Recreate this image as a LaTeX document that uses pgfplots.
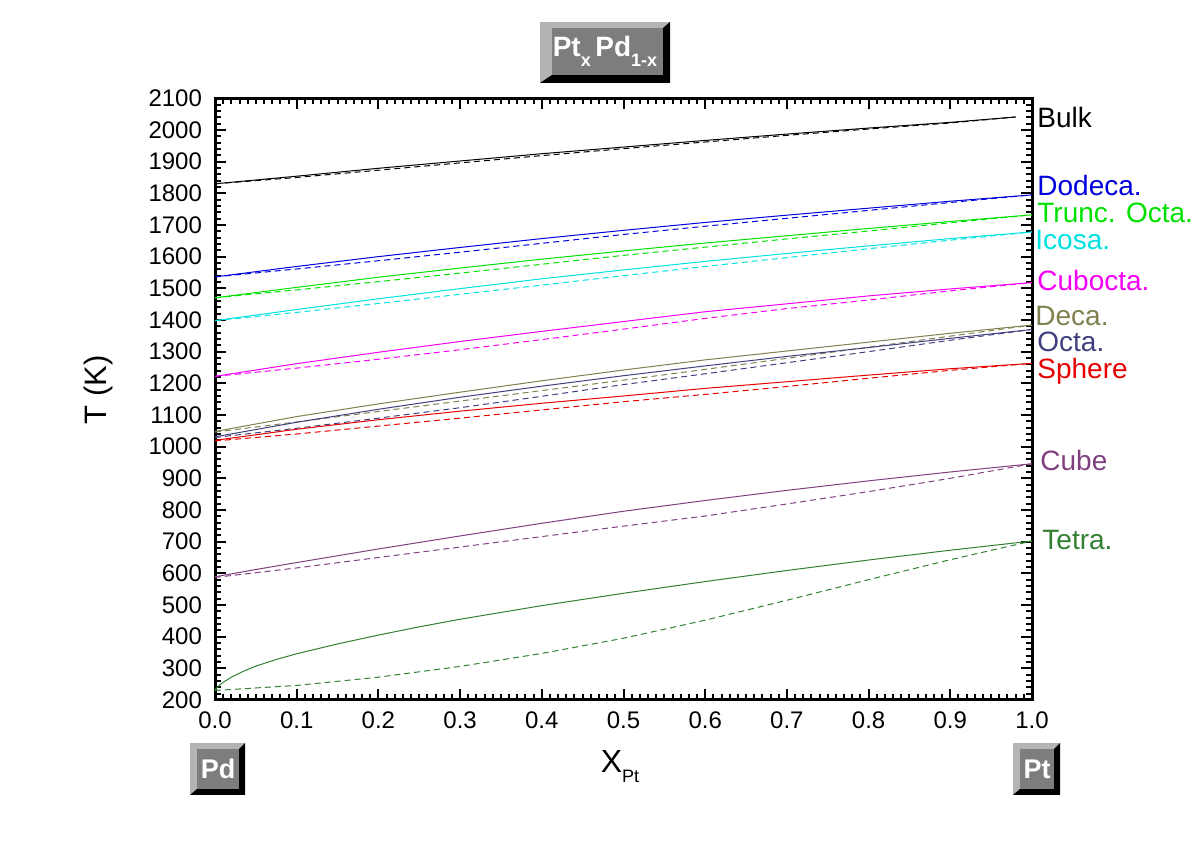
\documentclass[border=0pt]{standalone}
\usepackage{pgfplots}
\pgfplotsset{compat=1.18}
\usepackage{fontspec}
\setmainfont{Liberation Sans}
\definecolor{cBulk}{RGB}{0,0,0}
\definecolor{cDodeca}{RGB}{0,0,220}
\definecolor{cTrunc}{RGB}{0,225,0}
\definecolor{cIcosa}{RGB}{0,225,225}
\definecolor{cCubo}{RGB}{245,0,245}
\definecolor{cDeca}{RGB}{128,128,80}
\definecolor{cOcta}{RGB}{64,64,128}
\definecolor{cSphere}{RGB}{230,0,0}
\definecolor{cCube}{RGB}{128,64,128}
\definecolor{cTetra}{RGB}{50,128,50}
\definecolor{btnface}{RGB}{125,125,125}
\definecolor{btnlight}{RGB}{180,180,180}
\newcommand{\btn}[8]{% x1 y1 x2 y2 bl bt br bb
  \fill[btnlight] (#1pt,#2pt) rectangle (#3pt,#4pt);
  \fill[black] (#1pt,#2pt) -- (#3pt,#2pt) -- (#3pt,#4pt) -- ({#3pt-#7pt},{#4pt-#6pt}) -- ({#3pt-#7pt},{#2pt+#8pt}) -- ({#1pt+#5pt},{#2pt+#8pt}) -- cycle;
  \fill[btnface] ({#1pt+#5pt},{#2pt+#8pt}) rectangle ({#3pt-#7pt},{#4pt-#6pt});
}
\begin{document}
\begin{tikzpicture}
\path[use as bounding box] (0,0) rectangle (600pt,420.5pt);
\begin{axis}[
  at={(107.5pt,70.5pt)}, anchor=south west,
  scale only axis, width=408.5pt, height=300.85pt,
  xmin=0, xmax=1, ymin=200, ymax=2100,
  xtick={0,0.1,...,1.0}, ytick={200,300,...,2100},
  minor x tick num=9, minor y tick num=4,
  tick align=inside,
  major tick length=5.5pt, minor tick length=3pt,
  every tick/.style={black, line width=1pt},
  axis line style={line width=1.5pt},
  /pgf/number format/assume math mode=true,
  xticklabel style={/pgf/number format/fixed, /pgf/number format/fixed zerofill, /pgf/number format/precision=1, font=\fontsize{12}{14}\selectfont, yshift=-2.5pt},
  yticklabel style={/pgf/number format/set thousands separator={}, font=\fontsize{12}{14}\selectfont, xshift=-3pt},
  clip=false,
  every axis plot/.append style={line width=0.5pt},
]
% Bulk
\addplot[cBulk] coordinates {(0,1830)(0.1,1854)(0.2,1879)(0.3,1902)(0.4,1925)(0.5,1946)(0.6,1967)(0.7,1987)(0.8,2006)(0.9,2024)(0.98,2041)};
\addplot[cBulk, dash pattern=on 3pt off 2pt] coordinates {(0,1830)(0.1,1850)(0.2,1873)(0.3,1896)(0.4,1919)(0.5,1941)(0.6,1962)(0.7,1983)(0.8,2003)(0.9,2022)(0.98,2041)};
% Dodeca
\addplot[cDodeca] coordinates {(0,1536)(0.1,1569)(0.2,1600)(0.3,1629)(0.4,1657)(0.5,1683)(0.6,1708)(0.7,1731)(0.8,1753)(0.9,1775)(1,1795)};
\addplot[cDodeca, dash pattern=on 3pt off 2pt] coordinates {(0,1536)(0.1,1561)(0.2,1587)(0.3,1614)(0.4,1642)(0.5,1670)(0.6,1696)(0.7,1721)(0.8,1746)(0.9,1771)(1,1795)};
% Trunc. Octa
\addplot[cTrunc] coordinates {(0,1470)(0.1,1503)(0.2,1535)(0.3,1564)(0.4,1592)(0.5,1618)(0.6,1643)(0.7,1666)(0.8,1689)(0.9,1711)(1,1732)};
\addplot[cTrunc, dash pattern=on 3pt off 2pt] coordinates {(0,1470)(0.1,1495)(0.2,1521)(0.3,1548)(0.4,1576)(0.5,1604)(0.6,1630)(0.7,1656)(0.8,1681)(0.9,1707)(1,1732)};
% Icosa
\addplot[cIcosa] coordinates {(0,1398)(0.1,1433)(0.2,1467)(0.3,1499)(0.4,1530)(0.5,1558)(0.6,1585)(0.7,1610)(0.8,1634)(0.9,1657)(1,1678)};
\addplot[cIcosa, dash pattern=on 3pt off 2pt] coordinates {(0,1398)(0.1,1424)(0.2,1452)(0.3,1481)(0.4,1510)(0.5,1540)(0.6,1569)(0.7,1597)(0.8,1625)(0.9,1652)(1,1678)};
% Cubocta
\addplot[cCubo] coordinates {(0,1222)(0.1,1262)(0.2,1298)(0.3,1332)(0.4,1364)(0.5,1395)(0.6,1426)(0.7,1451)(0.8,1476)(0.9,1498)(1,1518)};
\addplot[cCubo, dash pattern=on 3pt off 2pt] coordinates {(0,1222)(0.1,1248)(0.2,1276)(0.3,1306)(0.4,1338)(0.5,1371)(0.6,1405)(0.7,1436)(0.8,1463)(0.9,1492)(1,1518)};
% Deca
\addplot[cDeca] coordinates {(0,1048)(0.1,1095)(0.2,1135)(0.3,1172)(0.4,1208)(0.5,1242)(0.6,1274)(0.7,1302)(0.8,1330)(0.9,1358)(1,1384)};
\addplot[cDeca, dash pattern=on 3pt off 2pt] coordinates {(0,1046)(0.1,1078)(0.2,1111)(0.3,1144)(0.4,1177)(0.5,1210)(0.6,1244)(0.7,1279)(0.8,1314)(0.9,1349)(1,1384)};
% Octa
\addplot[cOcta] coordinates {(0,1031)(0.1,1077)(0.2,1118)(0.3,1156)(0.4,1191)(0.5,1224)(0.6,1255)(0.7,1285)(0.8,1313)(0.9,1342)(1,1370)};
\addplot[cOcta, dash pattern=on 3pt off 2pt] coordinates {(0,1029)(0.1,1058)(0.2,1090)(0.3,1123)(0.4,1159)(0.5,1196)(0.6,1230)(0.7,1265)(0.8,1300)(0.9,1336)(1,1370)};
% Sphere
\addplot[cSphere] coordinates {(0,1020)(0.1,1055)(0.2,1085)(0.3,1112)(0.4,1137)(0.5,1160)(0.6,1184)(0.7,1205)(0.8,1226)(0.9,1246)(1,1263)};
\addplot[cSphere, dash pattern=on 3pt off 2pt] coordinates {(0,1018)(0.1,1040)(0.2,1065)(0.3,1090)(0.4,1116)(0.5,1142)(0.6,1165)(0.7,1190)(0.8,1216)(0.9,1241)(1,1263)};
% Cube
\addplot[cCube] coordinates {(0,589)(0.05,612)(0.1,634)(0.2,677)(0.3,718)(0.4,758)(0.5,796)(0.6,830)(0.7,862)(0.8,892)(0.9,920)(1,946)};
\addplot[cCube, dash pattern=on 3pt off 2pt] coordinates {(0,587)(0.1,617)(0.2,650)(0.3,683)(0.4,716)(0.5,749)(0.6,781)(0.7,819)(0.8,858)(0.9,900)(1,946)};
% Tetra
\addplot[cTetra] coordinates {(0,232)(0.005,246)(0.01,256)(0.02,272)(0.035,291)(0.05,307)(0.075,328)(0.1,346)(0.15,377)(0.2,405)(0.25,431)(0.3,455)(0.4,498)(0.5,537)(0.6,574)(0.7,609)(0.8,642)(0.9,673)(1,702)};
\addplot[cTetra, dash pattern=on 3pt off 2pt] coordinates {(0,230)(0.1,246)(0.2,272)(0.3,306)(0.4,347)(0.5,395)(0.6,452)(0.7,515)(0.8,580)(0.9,643)(1,702)};
\end{axis}
% curve labels
\begin{scope}[every node/.style={anchor=west, inner sep=0pt, font=\fontsize{14}{16}\selectfont}]
\node[text=cBulk] at (518.5pt,361.5pt) {Bulk};
\node[text=cDodeca] at (518.5pt,328pt) {Dodeca.};
\node[text=cTrunc] at (518.5pt,314pt) {Trunc. Octa.};
\node[text=cIcosa] at (517.5pt,300.5pt) {Icosa.};
\node[text=cCubo] at (518.5pt,280.5pt) {Cubocta.};
\node[text=cDeca] at (517.5pt,262.5pt) {Deca.};
\node[text=cOcta] at (518.5pt,249.5pt) {Octa.};
\node[text=cSphere] at (518.5pt,235pt) {Sphere};
\node[text=cCube] at (520pt,190.5pt) {Cube};
\node[text=cTetra] at (521pt,150.5pt) {Tetra.};
\end{scope}
% axis titles
\node[font=\fontsize{15.5}{18}\selectfont, rotate=90] at (49pt,225.5pt) {T (K)};
\node[font=\fontsize{16}{18}\selectfont, inner sep=0pt] at (310pt,37pt) {X\raisebox{-5pt}{\fontsize{9}{10}\selectfont Pt}};
% buttons
\btn{270}{379}{335}{409.5}{6}{3}{3.5}{4}
\node[text=white, font=\bfseries\fontsize{14}{16}\selectfont, inner sep=0pt] at (302.5pt,395pt) {Pt\raisebox{-5pt}{\fontsize{9}{10}\selectfont x}\,Pd\raisebox{-5pt}{\fontsize{9}{10}\selectfont 1-x}};
\btn{95}{23}{122.5}{49}{3.5}{3}{3}{3}
\node[text=white, font=\bfseries\fontsize{13.5}{15}\selectfont, inner sep=0pt] at (109pt,36pt) {Pd};
\btn{506.5}{23}{530}{49}{3.5}{3}{3}{3}
\node[text=white, font=\bfseries\fontsize{13.5}{15}\selectfont, inner sep=0pt] at (518.5pt,36pt) {Pt};
\end{tikzpicture}
\end{document}
